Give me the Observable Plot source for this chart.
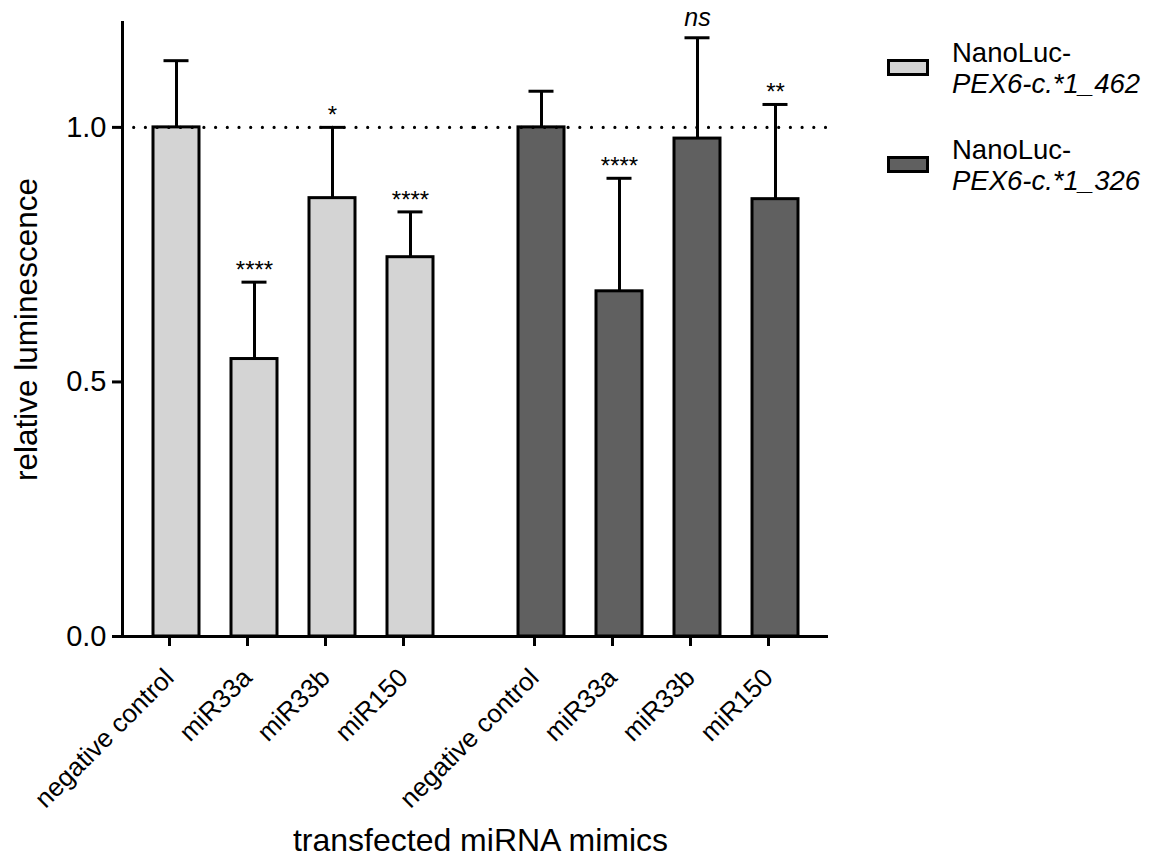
<!DOCTYPE html>
<html>
<head>
<meta charset="utf-8">
<script src="https://cdn.jsdelivr.net/npm/d3@7"></script>
<script src="https://cdn.jsdelivr.net/npm/@observablehq/plot@0.6"></script>
<style>
  html, body { margin: 0; padding: 0; background: #fff; }
  #wrap { position: relative; width: 1153px; height: 858px; font-family: "Liberation Sans", Arial, sans-serif; color: #000; }
  .leg { position: absolute; left: 887px; }
  .sw { position: absolute; left: 0; width: 36px; height: 11px; border: 3px solid #000; }
  .lt { position: absolute; left: 65px; font-size: 27.5px; line-height: 31px; white-space: nowrap; }
  .lt i { font-style: italic; }
</style>
</head>
<body>
<div id="wrap"></div>
<script>
// ---- data ----
const groups = ["NanoLuc-PEX6-c.*1_462", "NanoLuc-PEX6-c.*1_326"];
const mimics = ["negative control", "miR33a", "miR33b", "miR150"];
const values462 = [1.0, 0.545, 0.861, 0.745];
const upper462 = [1.131, 0.696, 1.0, 0.834];
const signif462 = ["", "****", "*", "****"];
const values326 = [1.0, 0.678, 0.978, 0.859];
const upper326 = [1.071, 0.900, 1.176, 1.045];
const signif326 = ["", "****", "ns", "**"];
const fills = ["#d4d4d4", "#606060"];
const yTicks = [0, 0.5, 1.0];
const referenceLevel = 1.0;
const xTitle = "transfected miRNA mimics";
const yTitle = "relative luminescence";

const rows = [];
mimics.forEach((m, i) => rows.push({group: groups[0], mimic: m, value: values462[i], upper: upper462[i], sig: signif462[i]}));
mimics.forEach((m, i) => rows.push({group: groups[1], mimic: m, value: values326[i], upper: upper326[i], sig: signif326[i]}));

const stars = rows.filter(d => d.sig && d.sig !== "ns");
const ns = rows.filter(d => d.sig === "ns");

// horizontal full-width lines, one segment per facet, bridged across the facet gap
const lineRows = (y) => groups.map(g => ({group: g, y}));
const half = 12.5;
function hline(y, opts) {
  return [
    Plot.ruleY([lineRows(y)[0]], {fx: "group", y: "y", insetRight: -half, ...opts}),
    Plot.ruleY([lineRows(y)[1]], {fx: "group", y: "y", insetLeft: -half, ...opts})
  ];
}

const chart = Plot.plot({
  width: 1153,
  height: 858,
  marginLeft: 122,
  marginRight: 325,
  marginTop: 22,
  marginBottom: 222,
  style: {fontFamily: "'Liberation Sans', Arial, sans-serif", color: "#000", background: "transparent"},
  fx: {domain: groups, paddingInner: 0.066, paddingOuter: 0, axis: null, label: null},
  x: {domain: mimics, paddingInner: 0.414, paddingOuter: 0.379, label: null},
  y: {domain: [0, 1.206], label: null},
  color: {domain: groups, range: fills},
  marks: [
    Plot.barY(rows, {fx: "group", x: "mimic", y: "value", fill: "group", stroke: "#000", strokeWidth: 3}),
    Plot.ruleX(rows, {fx: "group", x: "mimic", y1: "value", y2: "upper", stroke: "#000", strokeWidth: 3}),
    Plot.tickY(rows, {fx: "group", x: "mimic", y: "upper", stroke: "#000", strokeWidth: 3, insetLeft: 10.5, insetRight: 10.5}),
    Plot.text(stars, {fx: "group", x: "mimic", y: "upper", text: "sig", lineAnchor: "bottom", dy: -4, fontSize: 24, fill: "#000"}),
    Plot.text(ns, {fx: "group", x: "mimic", y: "upper", text: "sig", lineAnchor: "bottom", dy: -12, fontSize: 25, fontStyle: "italic", fill: "#000"}),
    ...hline(referenceLevel, {stroke: "#000", strokeWidth: 3.2, strokeDasharray: "0,11.7", strokeLinecap: "round"}),
    ...hline(0, {stroke: "#000", strokeWidth: 3}),
    Plot.frame({facetAnchor: "left", anchor: "left", stroke: "#000", strokeWidth: 3}),
    Plot.axisY({ticks: yTicks, tickFormat: d => d.toFixed(1), tickSize: 10, tickPadding: 6, fontSize: 29, strokeWidth: 3, label: null}),
    Plot.axisX({tickRotate: -45, tickSize: 10, tickPadding: 27, dx: -7, fontSize: 26, strokeWidth: 3, label: null}),
    Plot.text([yTitle], {facet: "super", frameAnchor: "left", textAnchor: "middle", rotate: -90, dx: -86, lineAnchor: "bottom", fontSize: 31.5, fill: "#000"}),
    Plot.text([xTitle], {facet: "super", frameAnchor: "bottom", textAnchor: "middle", dx: 5, dy: 214, lineAnchor: "bottom", fontSize: 32, fill: "#000"})
  ]
});

const wrap = document.getElementById("wrap");
wrap.appendChild(chart);

// legend (HTML, built from the same data)
const legTops = [37, 134];
groups.forEach((g, i) => {
  const item = document.createElement("div");
  item.className = "leg";
  item.style.top = legTops[i] + "px";
  const sw = document.createElement("div");
  sw.className = "sw";
  sw.style.background = fills[i];
  sw.style.top = "22px";
  const lt = document.createElement("div");
  lt.className = "lt";
  lt.style.top = "0px";
  const parts = g.split("-");
  lt.innerHTML = parts[0] + "-<br><i>" + parts.slice(1).join("-") + "</i>";
  item.appendChild(sw);
  item.appendChild(lt);
  wrap.appendChild(item);
});
</script>
</body>
</html>
